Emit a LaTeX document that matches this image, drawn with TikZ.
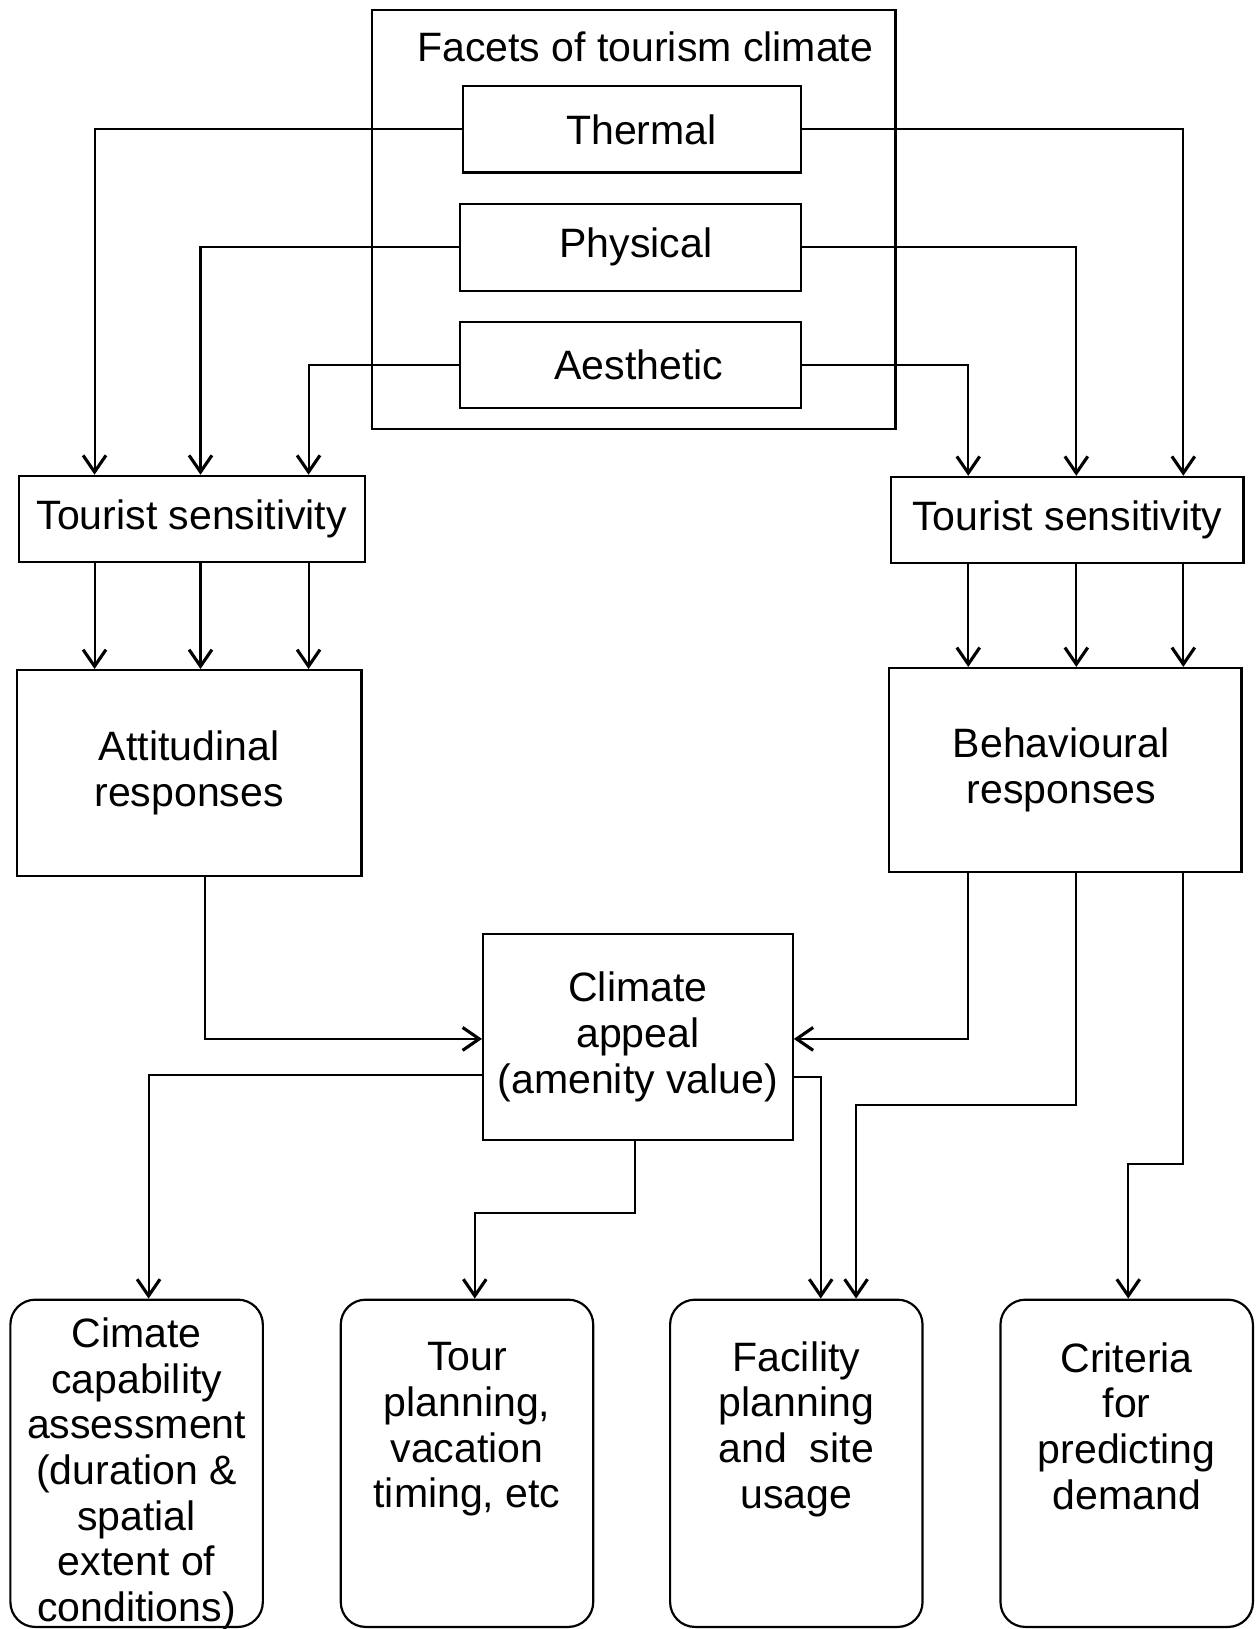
\documentclass[tikz,border=0pt]{standalone}
\usepackage{fontspec}
\setmainfont{Liberation Sans}
\usetikzlibrary{arrows.meta}
\begin{document}
\begin{tikzpicture}[x=1pt,y=-1pt,
  every node/.style={font=\fontsize{39.5}{44}\selectfont},
  box/.style={draw, line width=2.1pt, inner sep=0pt, align=center},
  rbox/.style={box, rounded corners=24pt},
  txt/.style={inner sep=0pt, align=center},
  arr/.style={line width=2pt, -{Straight Barb[length=16pt,width=22pt,line width=3pt]}}]
\useasboundingbox (0,0) rectangle (1211,1568);
% facets
\node[box, minimum width=504pt, minimum height=403pt] (fac) at (610,211.5) {};
\node[txt] (factitle) at (621,45) {Facets of tourism climate};
\node[box, minimum width=325pt, minimum height=83pt] (th) at (608.5,124.5) {\hspace*{18pt}Thermal};
\node[box, minimum width=328pt, minimum height=84pt] (ph) at (607,238) {\hspace*{10pt}Physical};
\node[box, minimum width=328pt, minimum height=83pt] (ae) at (607,351.5) {\hspace*{16pt}Aesthetic};
% sensitivity
\node[box, minimum width=333pt, minimum height=83pt] (tsl) at (184.5,499.5) {Tourist sensitivity};
\node[box, minimum width=339pt, minimum height=83pt] (tsr) at (1027.5,500.5) {Tourist sensitivity};
% responses
\node[box, minimum width=332pt, minimum height=198pt] (att) at (182,744) {Attitudinal\\responses};
\node[box, minimum width=339pt, minimum height=196pt] (beh) at (1025.5,741) {Behavioural\hspace*{8pt}\\responses\hspace*{8pt}};
% climate appeal
\node[box, minimum width=298pt, minimum height=198pt] (ca) at (614,998) {Climate\\appeal\\(amenity value)};
% bottom boxes
\node[rbox, minimum width=243pt, minimum height=315pt] (b1) at (131.5,1408.5) {};
\node[rbox, minimum width=243pt, minimum height=315pt] (b2) at (449.5,1408.5) {};
\node[rbox, minimum width=243pt, minimum height=315pt] (b3) at (766.5,1408.5) {};
\node[rbox, minimum width=243pt, minimum height=315pt] (b4) at (1084.5,1408.5) {};
\node[txt, anchor=north] (t1) at (131.5,1268) {Cimate\\capability\\assessment\\(duration \&\\spatial\\extent of\\conditions)};
\node[txt, anchor=north] (t2) at (449.5,1292) {Tour\\planning,\\vacation\\timing, etc};
\node[txt, anchor=north] (t3) at (766.5,1291) {Facility\\planning\\and\ \ site\\usage};
\node[txt, anchor=north] (t4) at (1084.5,1292) {Criteria\\for\\predicting\\demand};
% helper coordinates
\coordinate (xL1) at (91,0);
\coordinate (xL2) at (193,0);
\coordinate (xL3) at (297,0);
\coordinate (xR1) at (932,0);
\coordinate (xR2) at (1036,0);
\coordinate (xR3) at (1139,0);
\coordinate (xA) at (197,0);
\coordinate (yCA) at (0,1000);
\coordinate (k1) at (824,1064);
\coordinate (k2) at (1086,1120);
\coordinate (k3) at (143,1035);
\coordinate (k4) at (790,1037);
\coordinate (k5) at (611,0);
\coordinate (k6) at (457,1168);
% facets to sensitivity
\draw[arr] (th.west) -| (tsl.north -| xL1);
\draw[arr] (ph.west) -| (tsl.north -| xL2);
\draw[arr] (ae.west) -| (tsl.north -| xL3);
\draw[arr] (th.east) -| (tsr.north -| xR3);
\draw[arr] (ph.east) -| (tsr.north -| xR2);
\draw[arr] (ae.east) -| (tsr.north -| xR1);
% sensitivity to responses
\draw[arr] (tsl.south -| xL1) -- (att.north -| xL1);
\draw[arr] (tsl.south -| xL2) -- (att.north -| xL2);
\draw[arr] (tsl.south -| xL3) -- (att.north -| xL3);
\draw[arr] (tsr.south -| xR1) -- (beh.north -| xR1);
\draw[arr] (tsr.south -| xR2) -- (beh.north -| xR2);
\draw[arr] (tsr.south -| xR3) -- (beh.north -| xR3);
% responses to climate appeal
\draw[arr] (att.south -| xA) |- (ca.west |- yCA);
\draw[arr] (beh.south -| xR1) |- (ca.east |- yCA);
% to bottom boxes
\draw[arr] (beh.south -| xR2) |- (k1) -- (b3.north -| k1);
\draw[arr] (beh.south -| xR3) |- (k2) -- (b4.north -| k2);
\draw[arr] (ca.west |- k3) -| (b1.north -| k3);
\draw[arr] (ca.east |- k4) -| (b3.north -| k4);
\draw[arr] (ca.south -| k5) |- (k6) -- (b2.north -| k6);
\end{tikzpicture}
\end{document}
